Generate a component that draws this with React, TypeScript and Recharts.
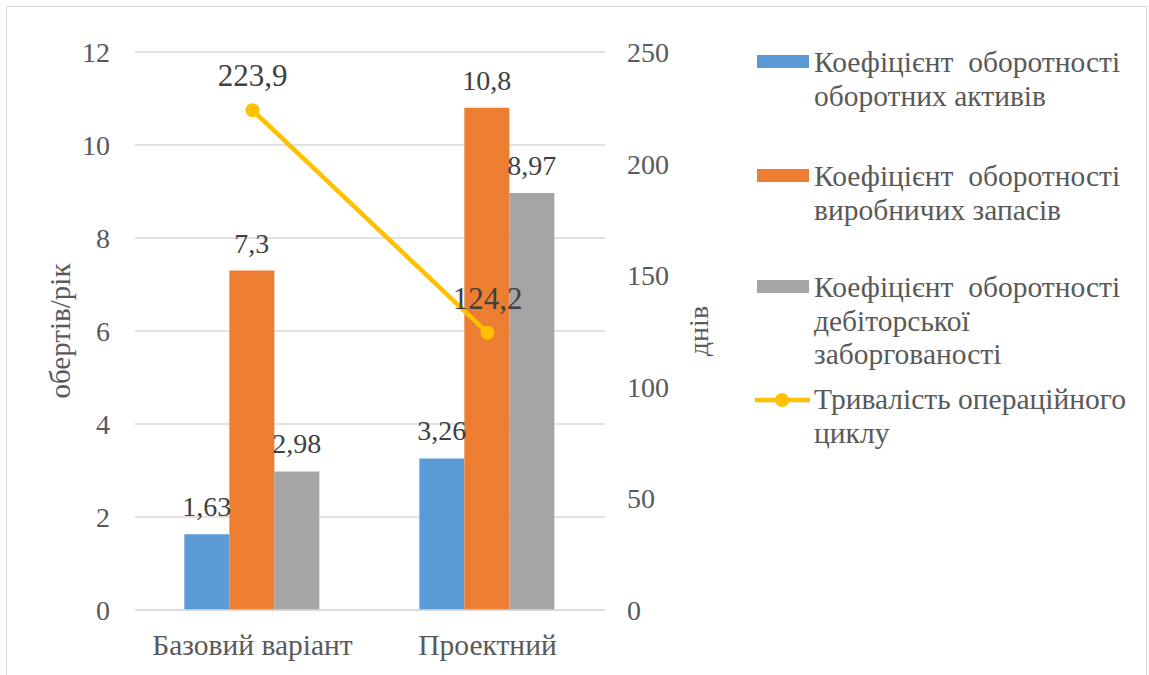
import { Bar, CartesianGrid, ComposedChart, LabelList, Line, XAxis, YAxis } from 'recharts'

const categories = ['Базовий варіант', 'Проектний']
const currentAssetsTurnover = [1.63, 3.26]
const inventoryTurnover = [7.3, 10.8]
const receivablesTurnover = [2.98, 8.97]
const operatingCycleDays = [223.9, 124.2]
const leftTicks = [0, 2, 4, 6, 8, 10, 12]
const rightTicks = [0, 50, 100, 150, 200, 250]

const legendItems = [
  { lines: ['Коефіцієнт  оборотності', 'оборотних активів'], color: '#5B9BD5', kind: 'bar' },
  { lines: ['Коефіцієнт  оборотності', 'виробничих запасів'], color: '#ED7D31', kind: 'bar' },
  { lines: ['Коефіцієнт  оборотності', 'дебіторської', 'заборгованості'], color: '#A5A5A5', kind: 'bar' },
  { lines: ['Тривалість операційного', 'циклу'], color: '#FFC000', kind: 'line' },
]
const legendBaselines = [73, 187, 298, 410]

const data = categories.map((name, i) => ({
  name,
  assets: currentAssetsTurnover[i],
  inventory: inventoryTurnover[i],
  receivables: receivablesTurnover[i],
  cycle: operatingCycleDays[i],
}))

const FONT = 'Liberation Serif'
const tickStyle = { fontSize: 28, fill: '#595959', fontFamily: FONT }
const catTickStyle = { fontSize: 29.5, fill: '#595959', fontFamily: FONT }
const barLabelStyle = { fontSize: 28, fill: '#404040', fontFamily: FONT }
const lineLabelStyle = { fontSize: 31, fill: '#404040', fontFamily: FONT }
const comma = (v: any) => String(v).replace('.', ',')

function AxisTitle({ viewBox, value, dx, size }: any) {
  const x = viewBox.x + dx
  const y = viewBox.y + viewBox.height / 2
  return (
    <text
      x={x}
      y={y}
      textAnchor="middle"
      dominantBaseline="central"
      transform={`rotate(-90 ${x} ${y})`}
      fontFamily={FONT}
      fontSize={size}
      fill="#595959"
    >
      {value}
    </text>
  )
}

function ChartLegend() {
  const LH = 33.7
  return (
    <>
      {legendItems.map((item, i) => {
        const base = legendBaselines[i]
        return (
          <div key={i}>
            {item.kind === 'bar' ? (
              <div
                style={{
                  position: 'absolute',
                  left: 757,
                  top: base - 18,
                  width: 52,
                  height: 13,
                  background: item.color,
                }}
              />
            ) : (
              <svg style={{ position: 'absolute', left: 752, top: base - 22, overflow: 'visible' }} width={60} height={24}>
                <line x1={3} y1={12} x2={58} y2={12} stroke={item.color} strokeWidth={4.5} />
                <circle cx={30} cy={12} r={7} fill={item.color} />
              </svg>
            )}
            <div
              style={{
                position: 'absolute',
                left: 814,
                top: base - 27,
                fontFamily: FONT,
                fontSize: 29.5,
                lineHeight: `${LH}px`,
                color: '#595959',
                whiteSpace: 'pre',
              }}
            >
              {item.lines.map((l, j) => (
                <div key={j}>{l}</div>
              ))}
            </div>
          </div>
        )
      })}
    </>
  )
}

export default function App() {
  return (
    <div
      style={{
        position: 'absolute',
        left: 0,
        top: 0,
        width: 1149,
        height: 675,
        overflow: 'hidden',
        background: '#fff',
        fontFamily: FONT,
      }}
    >
      <div
        style={{
          position: 'absolute',
          left: 6,
          top: 6,
          width: 1139,
          height: 720,
          border: '1px solid #D9D9D9',
        }}
      />
      <div style={{ position: 'absolute', left: 0, top: 0 }}>
        <ComposedChart
          width={1149}
          height={675}
          data={data}
          margin={{ top: 52, right: 434, bottom: 25, left: 0 }}
          barCategoryGap="21%"
          barGap={0}
          style={{ fontFamily: FONT }}
        >
          <CartesianGrid yAxisId="left" vertical={false} stroke="#D9D9D9" strokeWidth={1.3} />
          <XAxis
            dataKey="name"
            axisLine={{ stroke: '#D9D9D9', strokeWidth: 1.5 }}
            tickLine={false}
            tickSize={0}
            tickMargin={24}
            height={40}
            tick={catTickStyle}
          />
          <YAxis
            yAxisId="left"
            width={135}
            domain={[0, 12]}
            ticks={leftTicks}
            axisLine={false}
            tickLine={false}
            tickSize={0}
            tickMargin={25}
            tick={tickStyle}
            label={<AxisTitle value="обертів/рік" dx={60} size={29} />}
          />
          <YAxis
            yAxisId="right"
            orientation="right"
            width={110}
            domain={[0, 250]}
            ticks={rightTicks}
            axisLine={false}
            tickLine={false}
            tickSize={0}
            tickMargin={22}
            tick={{ ...tickStyle, textAnchor: 'start' }}
            label={<AxisTitle value="днів" dx={93} size={28} />}
          />
          <Bar yAxisId="left" dataKey="assets" fill="#5B9BD5" isAnimationActive={false}>
            <LabelList dataKey="assets" position="top" offset={18} formatter={comma} {...barLabelStyle} />
          </Bar>
          <Bar yAxisId="left" dataKey="inventory" fill="#ED7D31" isAnimationActive={false}>
            <LabelList dataKey="inventory" position="top" offset={18} formatter={comma} {...barLabelStyle} />
          </Bar>
          <Bar yAxisId="left" dataKey="receivables" fill="#A5A5A5" isAnimationActive={false}>
            <LabelList dataKey="receivables" position="top" offset={18} formatter={comma} {...barLabelStyle} />
          </Bar>
          <Line
            yAxisId="right"
            dataKey="cycle"
            stroke="#FFC000"
            strokeWidth={4.5}
            dot={{ r: 7, fill: '#FFC000', stroke: 'none' }}
            isAnimationActive={false}
          >
            <LabelList dataKey="cycle" position="top" offset={24} formatter={comma} {...lineLabelStyle} />
          </Line>
        </ComposedChart>
      </div>
      <ChartLegend />
    </div>
  )
}
